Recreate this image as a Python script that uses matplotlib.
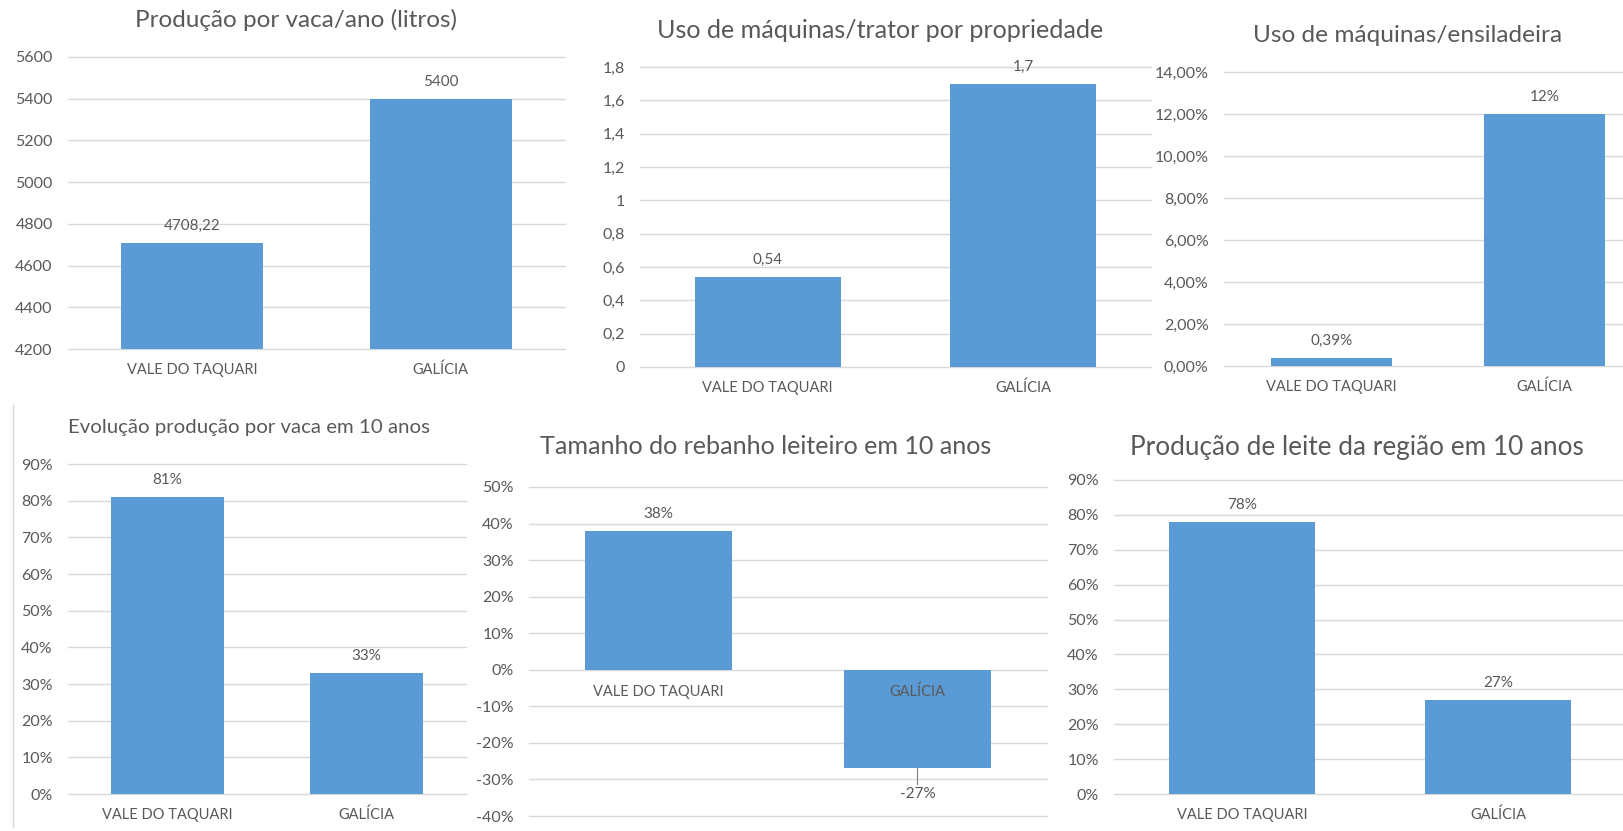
import matplotlib
matplotlib.use("Agg")
import matplotlib.pyplot as plt
from matplotlib.lines import Line2D
import numpy as np

plt.rcParams['font.family'] = ['Lato', 'DejaVu Sans']

# Dados
categorias = ["VALE DO TAQUARI", "GALÍCIA"]
producao_vaca_ano = [4708.22, 5400]      # litros
tratores_propriedade = [0.54, 1.7]
ensiladeira_pct = [0.39, 12]             # %
evolucao_producao_pct = [81, 33]         # %
rebanho_pct = [38, -27]                  # %
producao_regiao_pct = [78, 27]           # %

AZUL = "#5B9BD5"
GRADE = "#D9D9D9"
TEXTO = "#595959"

W, H = 1624, 831
fig = plt.figure(figsize=(W / 100, H / 100), dpi=100)


def rect(l, t, r, b):
    return [l / W, 1 - b / H, (r - l) / W, (b - t) / H]


def virgula(s):
    return s.replace(".", ",")


def grafico(pos, xlim, ylim, yticks, fmt_tick, valores, fmt_valor,
            titulo, tpos, tsize, rotulo_no_zero=False):
    ax = fig.add_axes(rect(*pos))
    x = np.arange(len(categorias))
    ax.bar(x, valores, width=0.57, color=AZUL, zorder=2)
    ax.set_xlim(*xlim)
    ax.set_ylim(*ylim)
    ax.set_yticks(yticks)
    ax.set_yticklabels([fmt_tick(v) for v in yticks])
    ax.yaxis.grid(True, color=GRADE, lw=1)
    for gl in ax.get_ygridlines():
        gl.set_clip_on(False)
    ax.set_axisbelow(True)
    for s in ax.spines.values():
        s.set_visible(False)
    ax.tick_params(axis='y', length=0, pad=11, labelsize=11.5, labelcolor=TEXTO)
    ax.set_xticks(x)
    if rotulo_no_zero:
        ax.set_xticklabels([])
        ax.tick_params(axis='x', length=0)
        for i, c in enumerate(categorias):
            ax.annotate(c, (i, 0), xytext=(0, -22), textcoords='offset pixels',
                        ha='center', va='center', fontsize=10.5, color=TEXTO, zorder=3)
    else:
        ax.set_xticklabels(categorias)
        ax.tick_params(axis='x', length=0, pad=10, labelsize=10.5, labelcolor=TEXTO)
    for i, v in enumerate(valores):
        if v >= 0:
            ax.annotate(fmt_valor(v), (i, v), xytext=(0, 17), textcoords='offset pixels',
                        ha='center', va='center', fontsize=11, color=TEXTO)
        else:
            ax.annotate(fmt_valor(v), (i, v), xytext=(0, -26), textcoords='offset pixels',
                        ha='center', va='center', fontsize=11, color=TEXTO,
                        arrowprops=dict(arrowstyle='-', color='#7F7F7F', lw=0.8,
                                        shrinkA=0, shrinkB=0))
    fig.text(tpos[0] / W, 1 - tpos[1] / H, titulo, ha='center', va='center',
             fontsize=tsize, color=TEXTO)
    return ax


pct0 = lambda v: f"{v:.0f}%"

grafico((68, 57, 565, 349), (-0.5, 1.5), (4200, 5600), np.arange(4200, 5601, 200),
        lambda v: f"{v:.0f}", producao_vaca_ano, lambda v: virgula(f"{v:g}"),
        "Produção por vaca/ano (litros)", (296, 20), 17.5)

grafico((640, 67, 1151, 367), (-0.5, 1.5), (0, 1.8), [round(v, 1) for v in np.arange(0, 1.81, 0.2)],
        lambda v: virgula(f"{v:g}"), tratores_propriedade, lambda v: virgula(f"{v:g}"),
        "Uso de máquinas/trator por propriedade", (880, 30), 18.1)

grafico((1224, 72, 1624, 366), (-0.505, 1.373), (0, 14), np.arange(0, 14.1, 2),
        lambda v: virgula(f"{v:.2f}%"), ensiladeira_pct, lambda v: virgula(f"{v:g}%"),
        "Uso de máquinas/ensiladeira", (1408, 35), 17.6)

grafico((68, 464, 466, 794), (-0.5, 1.5), (0, 90), np.arange(0, 91, 10),
        pct0, evolucao_producao_pct, pct0,
        "Evolução produção por vaca em 10 anos", (249, 428), 14.7)

grafico((529, 487, 1047, 816), (-0.5, 1.5), (-40, 50), np.arange(-40, 51, 10),
        pct0, rebanho_pct, pct0,
        "Tamanho do rebanho leiteiro em 10 anos", (766, 447), 18.1, rotulo_no_zero=True)

grafico((1114, 480, 1624, 794), (-0.5, 1.49), (0, 90), np.arange(0, 91, 10),
        pct0, producao_regiao_pct, pct0,
        "Produção de leite da região em 10 anos", (1357, 447), 18.8)

# borda do quadro inferior esquerdo
fig.add_artist(Line2D([13 / W, 13 / W], [1 - 405 / H, 1 - 827 / H], color=GRADE, lw=1))

fig.savefig("out.png", dpi=100, facecolor="white")
